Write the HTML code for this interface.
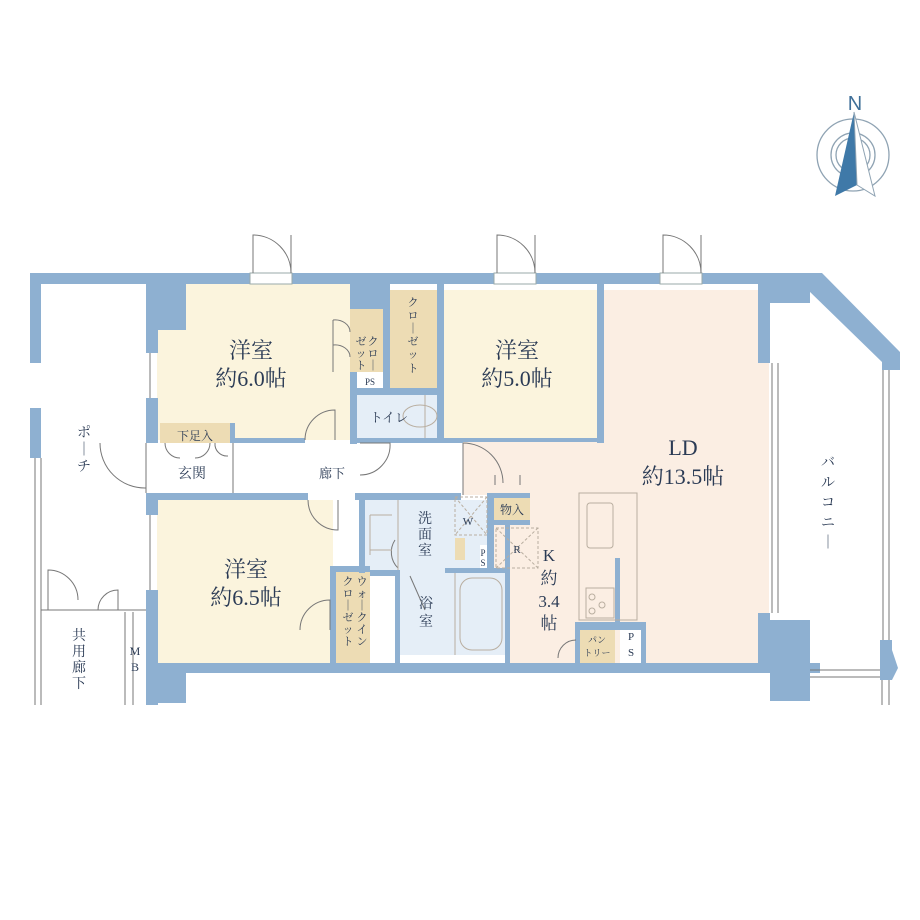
<!DOCTYPE html>
<html><head><meta charset="utf-8"><style>
html,body{margin:0;padding:0;background:#fff;}
svg{display:block}
text{font-family:"Liberation Serif","Noto Serif CJK SC",serif;fill:#2b3b55}
</style></head><body>
<svg width="920" height="920" viewBox="0 0 920 920" xmlns="http://www.w3.org/2000/svg">
<g fill="none" stroke="#8fa3b3" stroke-width="1.3">
<circle cx="853" cy="155" r="36"/><circle cx="853" cy="155" r="22"/><circle cx="853" cy="155" r="17"/>
</g>
<polygon points="854,112 835,196 857,185" fill="#3f79a8"/>
<polygon points="854,112 875,196 857,185" fill="#fff" stroke="#8fa3b3" stroke-width="1"/>
<text x="855" y="110" font-size="20" text-anchor="middle" style="fill:#3f6f98;font-family:'Liberation Sans',sans-serif">N</text>

<rect x="157" y="283" width="193" height="157" fill="#fbf4dd"/>
<rect x="444" y="290" width="155" height="150" fill="#fbf4dd"/>
<rect x="157" y="500" width="176" height="163" fill="#fbf4dd"/>
<path d="M604,290 H769 V663 H505 V575 H490 V495 H463 V440 H604 Z" fill="#fbeee3"/>
<rect x="357" y="393" width="81" height="47" fill="#e5eef7"/>
<rect x="365" y="500" width="122" height="73" fill="#e5eef7"/>
<rect x="400" y="573" width="105" height="82" fill="#e5eef7"/>
<rect x="390" y="290" width="48" height="98" fill="#eddcb4"/>
<rect x="350" y="309" width="33" height="63" fill="#eddcb4"/>
<rect x="336" y="570" width="34" height="93" fill="#eddcb4"/>
<rect x="160" y="423" width="70" height="20" fill="#eddcb4"/>
<rect x="494" y="493" width="36" height="27" fill="#eddcb4"/>
<rect x="578" y="630" width="37" height="33" fill="#eddcb4"/>
<rect x="455" y="538" width="10" height="22" fill="#eddcb4"/>

<g fill="#8eb0d1">
<rect x="30" y="273" width="790" height="11"/>
<rect x="30" y="273" width="11" height="90"/>
<rect x="30" y="408" width="11" height="50"/>
<rect x="146" y="273" width="12" height="80"/>
<rect x="146" y="283" width="40" height="47"/>
<rect x="146" y="398" width="12" height="45"/>
<rect x="146" y="493" width="12" height="22"/>
<rect x="146" y="590" width="12" height="115"/>
<rect x="146" y="663" width="40" height="40"/>
<rect x="146" y="663" width="674" height="10"/>
<rect x="350" y="283" width="40" height="26"/>
<rect x="383" y="283" width="7" height="110"/>
<rect x="350" y="372" width="7" height="72"/>
<rect x="350" y="388" width="94" height="7"/>
<rect x="437" y="283" width="7" height="160"/>
<rect x="230" y="423" width="5" height="20"/>
<rect x="230" y="438" width="75" height="5"/>
<rect x="350" y="438" width="113" height="5"/>
<rect x="437" y="438" width="160" height="4"/>
<rect x="597" y="283" width="7" height="160"/>
<rect x="158" y="493" width="150" height="7"/>
<rect x="355" y="493" width="106" height="7"/>
<rect x="359" y="493" width="6" height="80"/>
<rect x="330" y="566" width="40" height="6"/>
<rect x="330" y="566" width="6" height="100"/>
<rect x="370" y="570" width="30" height="6"/>
<rect x="395" y="570" width="5" height="95"/>
<rect x="445" y="568" width="60" height="5"/>
<rect x="487" y="493" width="7" height="80"/>
<rect x="490" y="493" width="40" height="5"/>
<rect x="490" y="520" width="40" height="5"/>
<rect x="505" y="520" width="5" height="145"/>
<rect x="615" y="558" width="5" height="70"/>
<rect x="575" y="622" width="70" height="8"/>
<rect x="575" y="622" width="5" height="42"/>
<rect x="641" y="622" width="5" height="42"/>
<rect x="758" y="283" width="12" height="80"/>
<rect x="758" y="613" width="12" height="55"/>
<rect x="758" y="620" width="52" height="50"/>
<rect x="770" y="663" width="40" height="38"/>
<rect x="770" y="283" width="40" height="20"/>
<polygon points="805,273 822,273 900,352 900,370 882,370 882,362 808,290"/>
<rect x="880" y="640" width="12" height="20"/>
<polygon points="880,650 892,650 898,668 892,680 880,680"/>
</g>
<rect x="620" y="630" width="21" height="33" fill="#fff"/>
<rect x="480" y="545" width="7" height="23" fill="#fff"/>
<rect x="360" y="372" width="23" height="16" fill="#fff"/>

<g fill="#fff" stroke="#9aa" stroke-width="1">
<rect x="250" y="273" width="42" height="11"/>
<rect x="494" y="273" width="42" height="11"/>
<rect x="660" y="273" width="42" height="11"/>
</g>
<g fill="none" stroke="#777" stroke-width="1">
<path d="M253,273 V235 A38,38 0 0 1 291,273"/><line x1="291" y1="235" x2="291" y2="273"/>
<path d="M497,273 V235 A38,38 0 0 1 535,273"/><line x1="535" y1="235" x2="535" y2="273"/>
<path d="M663,273 V235 A38,38 0 0 1 701,273"/><line x1="701" y1="235" x2="701" y2="273"/>
<path d="M305,440 A30,30 0 0 1 335,410 V440"/>
<path d="M360,443 H390 A30,30 0 0 1 360,475"/>
<path d="M308,500 A30,30 0 0 0 338,530 V500"/>
<path d="M300,630 A30,30 0 0 1 330,600 V630"/>
<path d="M100,443 A45,45 0 0 0 146,488"/>
<path d="M463,443 A40,40 0 0 1 503,483"/>
<path d="M495,485 V475 M520,485 V475"/>
<path d="M576,640 A18,18 0 0 0 558,658"/>
<path d="M395,540 A22,22 0 0 0 398,568"/>
<path d="M410,576 L425,610"/>
<path d="M48,610 V570 A30,30 0 0 1 78,600 M118,610 V590 A20,20 0 0 0 98,610"/>
<line x1="41" y1="610" x2="146" y2="610"/>
<line x1="125" y1="612" x2="125" y2="705"/><line x1="133" y1="612" x2="133" y2="705"/>
<line x1="41" y1="458" x2="41" y2="705"/><line x1="35" y1="458" x2="35" y2="705"/>
<line x1="883" y1="370" x2="883" y2="640"/><line x1="889" y1="370" x2="889" y2="640"/>
<line x1="810" y1="670" x2="880" y2="670"/><line x1="810" y1="677" x2="880" y2="677"/>
<line x1="882" y1="680" x2="882" y2="705"/><line x1="889" y1="680" x2="889" y2="705"/>
<line x1="772" y1="363" x2="772" y2="613"/><line x1="778" y1="363" x2="778" y2="613"/>
<line x1="150" y1="353" x2="150" y2="398"/><line x1="150" y1="515" x2="150" y2="590"/>
<line x1="146" y1="443" x2="146" y2="493"/>
<line x1="233" y1="443" x2="233" y2="493"/>
<line x1="463" y1="443" x2="463" y2="495"/>
<path d="M333,320 A15,12 0 0 1 350,332 M333,345 A15,12 0 0 1 350,357 M333,320 V372"/>
<path d="M165,443 A15,15 0 0 0 180,458 M210,443 A15,15 0 0 1 195,458 M215,443 A12,12 0 0 0 228,456"/>
</g>
<g fill="none" stroke="#b9aea0" stroke-width="1">
<rect x="579" y="493" width="58" height="127"/>
<rect x="587" y="503" width="26" height="45" rx="3"/>
<rect x="586" y="588" width="28" height="30"/>
<circle cx="592" cy="597" r="3"/><circle cx="602" cy="605" r="3"/><circle cx="592" cy="611" r="3"/>
<rect x="496" y="528" width="42" height="40" stroke-dasharray="3,2"/>
<path d="M496,528 L538,568 M538,528 L496,568" stroke-dasharray="3,2"/>
<rect x="455" y="497" width="32" height="38" stroke-dasharray="3,2"/>
<path d="M455,497 L487,535 M487,497 L455,535" stroke-dasharray="3,2"/>
<rect x="460" y="578" width="42" height="72" rx="12"/>
<line x1="455" y1="573" x2="455" y2="655"/>
<path d="M370,515 H392 M370,550 H392 M370,515 V555"/>
<line x1="398" y1="500" x2="398" y2="570"/>
<ellipse cx="420" cy="416" rx="17" ry="11"/>
<line x1="425" y1="395" x2="425" y2="438"/>
</g>

<g text-anchor="middle">
<text x="251" y="358" font-size="22">洋室</text>
<text x="251" y="386" font-size="22">約6.0帖</text>
<text x="517" y="358" font-size="22">洋室</text>
<text x="517" y="386" font-size="22">約5.0帖</text>
<text x="683" y="455" font-size="22">LD</text>
<text x="683" y="484" font-size="22">約13.5帖</text>
<text x="246" y="577" font-size="22">洋室</text>
<text x="246" y="605" font-size="22">約6.5帖</text>
<text x="195" y="440" font-size="12">下足入</text>
<text x="192" y="478" font-size="14">玄関</text>
<text x="332" y="478" font-size="13">廊下</text>
<text x="389" y="422" font-size="13">トイレ</text>
<text x="512" y="514" font-size="12">物入</text>
<text x="517" y="553" font-size="11">R</text>
<text x="468" y="525" font-size="11">W</text>
<text x="549" y="561" font-size="17">K</text>
<text x="549" y="584" font-size="17">約</text>
<text x="549" y="607" font-size="17">3.4</text>
<text x="549" y="629" font-size="17">帖</text>
<text x="370" y="385" font-size="9">PS</text>
<text x="597" y="643" font-size="9">パン</text>
<text x="597" y="656" font-size="9">トリー</text>
<text x="631" y="640" font-size="11">P</text>
<text x="631" y="656" font-size="11">S</text>
<text x="483" y="556" font-size="9">P</text>
<text x="483" y="566" font-size="9">S</text>
<text x="135" y="655" font-size="12">M</text>
<text x="135" y="671" font-size="12">B</text>
</g>
<g font-size="14" text-anchor="middle">
<text x="84" y="437">ポ</text><text x="84" y="454">｜</text><text x="84" y="471">チ</text>
<text x="79" y="640">共</text><text x="79" y="656">用</text><text x="79" y="672">廊</text><text x="79" y="688">下</text>
<text x="425" y="523">洗</text><text x="425" y="539">面</text><text x="425" y="555">室</text>
<text x="426" y="608">浴</text><text x="426" y="626">室</text>
<text x="828" y="467">バ</text><text x="828" y="487">ル</text><text x="828" y="507">コ</text><text x="828" y="527">ニ</text><text x="828" y="547">｜</text>
</g>
<g font-size="11" text-anchor="middle">
<text x="413" y="306">ク</text><text x="413" y="319">ロ</text><text x="413" y="332">｜</text><text x="413" y="345">ゼ</text><text x="413" y="358">ッ</text><text x="413" y="372">ト</text>
<text x="373" y="345">ク</text><text x="373" y="357">ロ</text><text x="373" y="369">｜</text>
<text x="361" y="345">ゼ</text><text x="361" y="357">ッ</text><text x="361" y="369">ト</text>
<text x="362" y="585">ウ</text><text x="362" y="597">ォ</text><text x="362" y="609">｜</text><text x="362" y="621">ク</text><text x="362" y="633">イ</text><text x="362" y="645">ン</text>
<text x="348" y="585">ク</text><text x="348" y="597">ロ</text><text x="348" y="609">｜</text><text x="348" y="621">ゼ</text><text x="348" y="633">ッ</text><text x="348" y="645">ト</text>
</g>
</svg>
</body></html>
